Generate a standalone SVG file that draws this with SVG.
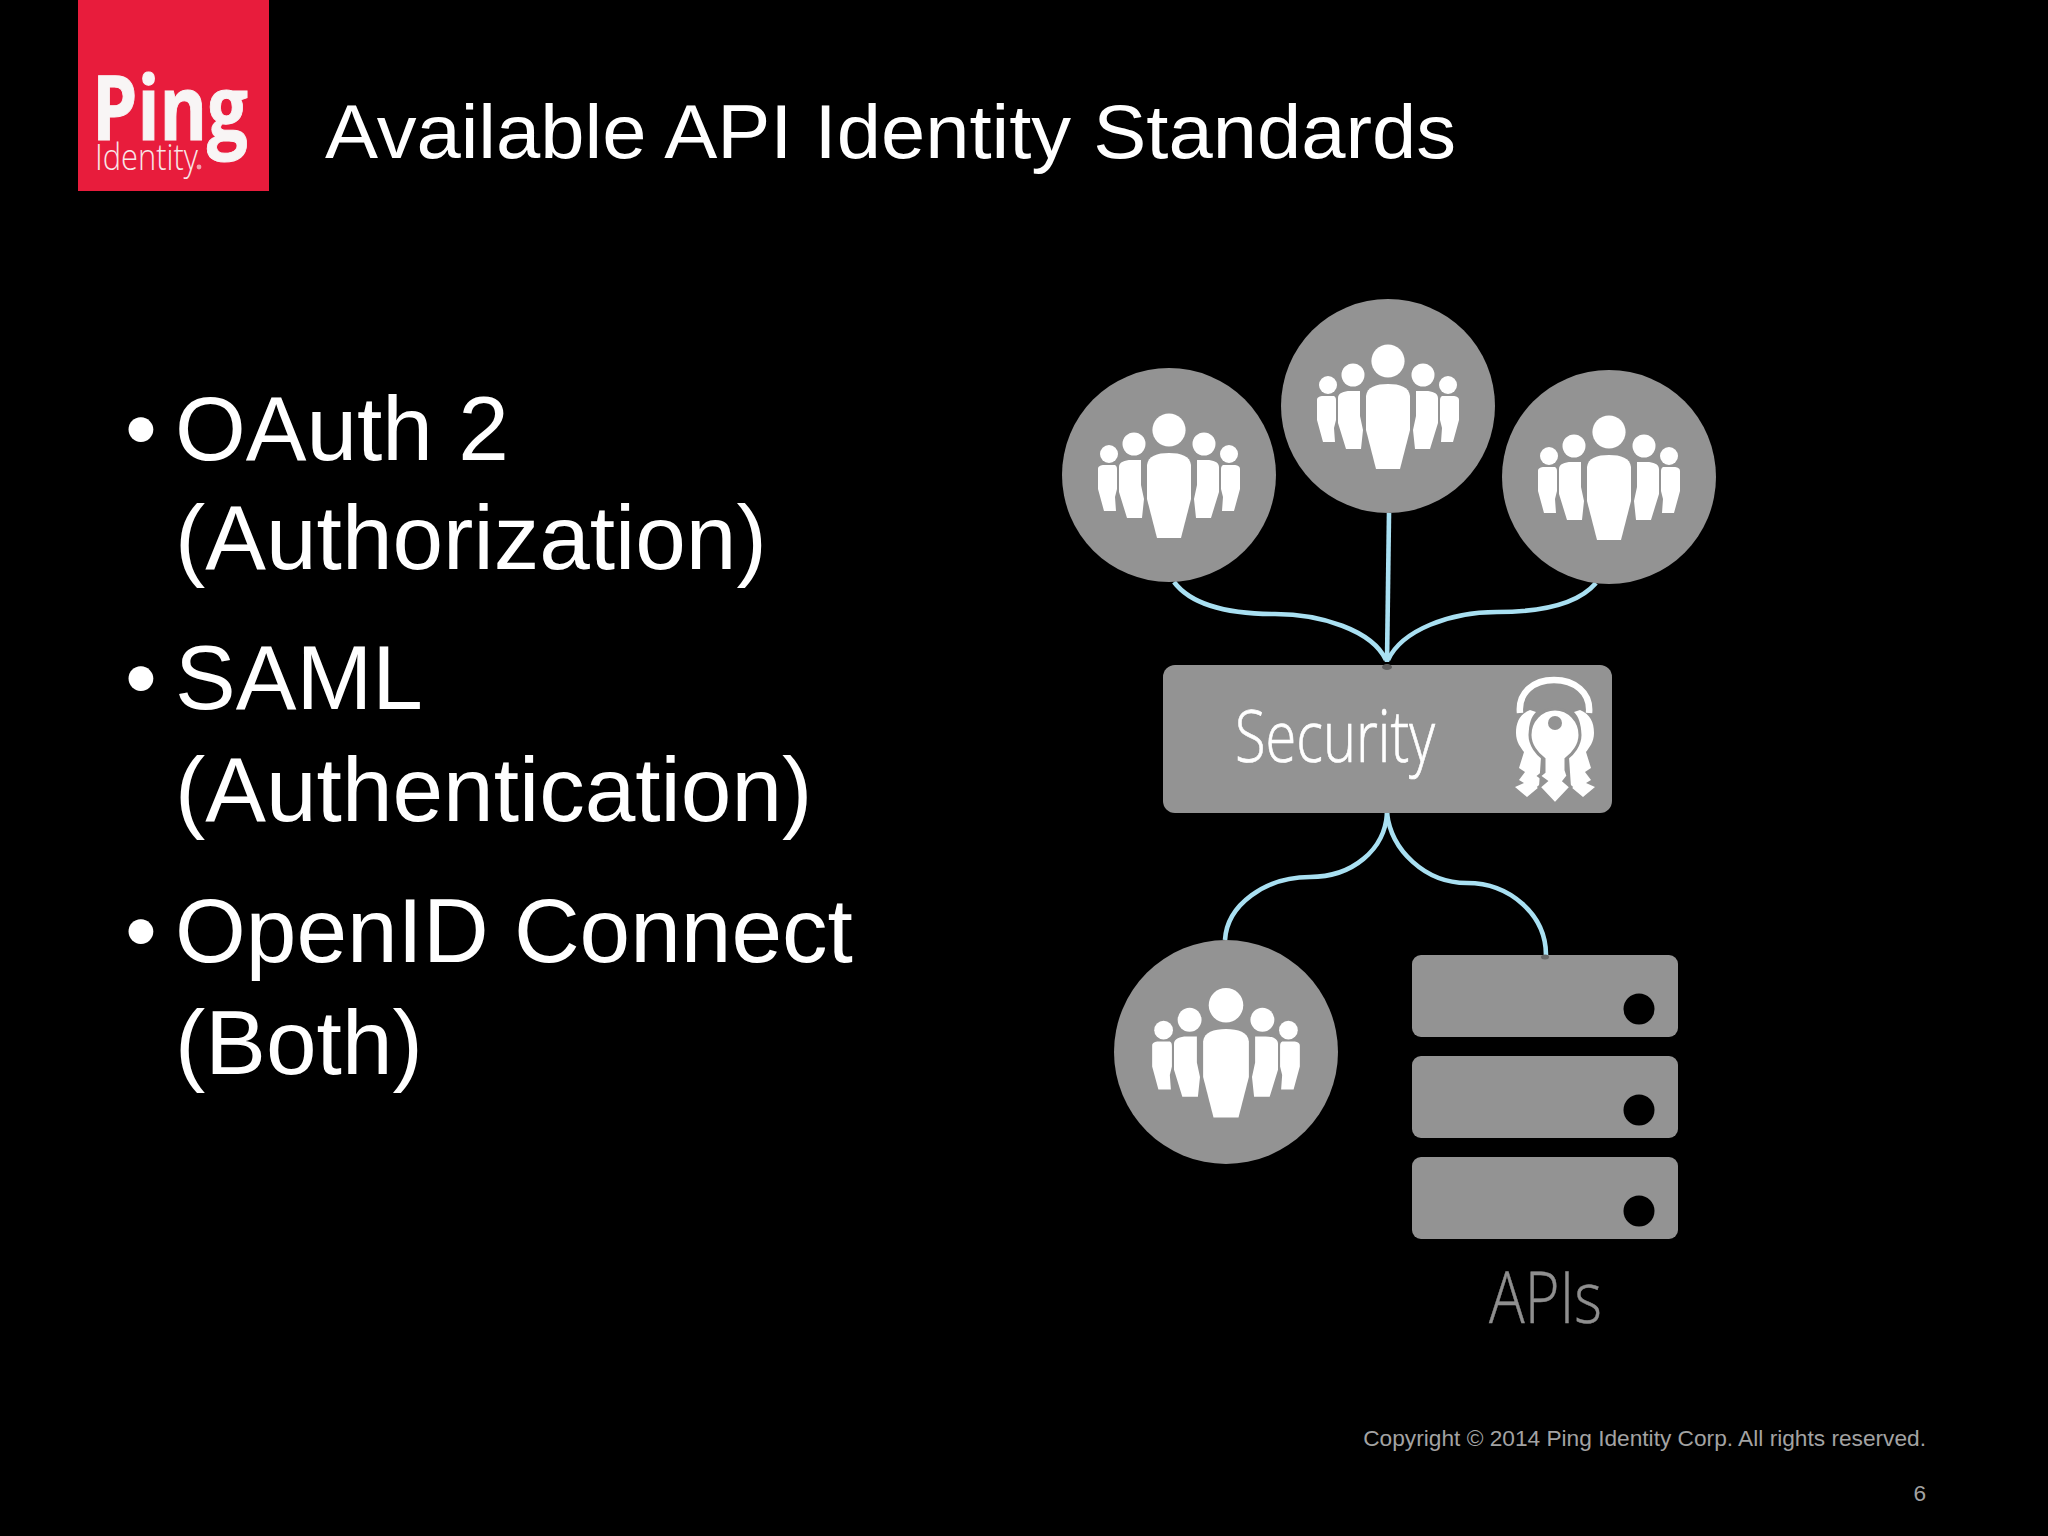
<svg xmlns="http://www.w3.org/2000/svg" xmlns:xlink="http://www.w3.org/1999/xlink" width="2048" height="1536" viewBox="0 0 2048 1536">
<style>
.s{font-family:"Liberation Sans",Arial,sans-serif;fill:#fff}
.b{font-size:91px}
.g{fill:#939393}
.h{font-family:"Open Sans","Liberation Sans",sans-serif;font-weight:300}
.c{fill:none;stroke:#a9e0f2;stroke-width:4.6;stroke-linecap:butt}
.f{font-family:"Liberation Sans",Arial,sans-serif;fill:#a3a3a3;font-size:22.7px}
</style>
<defs>
<g id="people" fill="#fff">
<circle cx="0" cy="-45" r="16.6"/>
<circle cx="-35" cy="-31" r="11.5"/><circle cx="35" cy="-31" r="11.5"/>
<circle cx="-60" cy="-21" r="9"/><circle cx="60" cy="-21" r="9"/>
<path d="M-22 -10C-21 -19 -12 -22 0 -22C12 -22 21 -19 22 -10L22 24L12 63H-12L-22 24Z"/>
<path d="M-50 -8C-50 -13 -44 -15 -38 -15H-28L-28 10L-25 24L-27 43H-42L-50 17Z"/>
<path d="M50 -8C50 -13 44 -15 38 -15H28L28 10L25 24L27 43H42L50 17Z"/>
<path d="M-71 -6C-71 -9 -68 -10 -65 -10H-54C-52 -9 -52 -7 -52 -5L-52 14L-54 22L-53 36H-65L-71 14Z"/>
<path d="M71 -6C71 -9 68 -10 65 -10H54C52 -9 52 -7 52 -5L52 14L54 22L53 36H65L71 14Z"/>
</g>
<path id="skey" d="M1530 710C1520 714 1516 722 1516 733C1516 742 1521 748 1524 752L1519 768L1525 772L1519 780L1524 783L1515 787L1527 797L1539 787L1541 757L1535 750C1528 742 1526 722 1536 712Z"/>
</defs>
<rect width="2048" height="1536" fill="#000"/>

<g id="logo">
<rect x="78" y="0" width="191" height="191" fill="#e81c3c"/>
<text x="92" y="140" font-family="'Open Sans','Liberation Sans',sans-serif" font-weight="700" font-size="89" fill="#f8f5f5" stroke="#f8f5f5" stroke-width="1" textLength="156" lengthAdjust="spacingAndGlyphs">Ping</text>
<text x="95" y="170" font-family="'Open Sans','Liberation Sans',sans-serif" font-weight="300" font-size="36" fill="#f8e6e8" textLength="103" lengthAdjust="spacingAndGlyphs">Identity</text>
<circle cx="199" cy="167" r="2.4" fill="#f4a0ac"/>
</g>

<text id="title" class="s" x="325" y="158" font-size="76" textLength="1131" lengthAdjust="spacingAndGlyphs">Available API Identity Standards</text>

<g id="bullets" class="s">
<text class="s b" x="125" y="460">•</text><text class="s b" x="175" y="460">OAuth 2</text>
<text class="s b" x="175" y="569">(Authorization)</text>
<text class="s b" x="125" y="709">•</text><text class="s b" x="175" y="709">SAML</text>
<text class="s b" x="175" y="821">(Authentication)</text>
<text class="s b" x="125" y="962">•</text><text class="s b" x="175" y="962">OpenID Connect</text>
<text class="s b" x="175" y="1074">(Both)</text>
</g>

<g id="connectors">
<path class="c" d="M1389 513L1387 662"/>
<path class="c" d="M1174 582C1192 606 1230 614 1275 614C1320 614 1372 630 1386 660"/>
<path class="c" d="M1596 583C1578 604 1540 612 1497 612C1450 612 1402 630 1388 660"/>
<path class="c" d="M1387 813C1385 850 1352 877 1310 877C1265 877 1227 905 1225 940"/>
<path class="c" d="M1387 813C1391 850 1425 883 1467 883C1510 883 1546 915 1546 955"/>
</g>

<g id="user-left"><circle class="g" cx="1169" cy="475" r="107"/><use xlink:href="#people" href="#people" x="1169" y="475"/></g>
<g id="user-middle"><circle class="g" cx="1388" cy="406" r="107"/><use xlink:href="#people" href="#people" x="1388" y="406"/></g>
<g id="user-right"><circle class="g" cx="1609" cy="477" r="107"/><use xlink:href="#people" href="#people" x="1609" y="477"/></g>

<g id="security">
<rect class="g" x="1163" y="665" width="449" height="148" rx="12"/>
<ellipse cx="1387" cy="667" rx="5" ry="3" fill="#5e5e5e"/>
<text x="1235" y="762" class="h" font-size="72" fill="#fff" stroke="#fff" stroke-width="0.7" textLength="200" lengthAdjust="spacingAndGlyphs">Security</text>
<path d="M1520 713C1518 692 1534 680 1554 680C1574 680 1591 692 1589 713" fill="none" stroke="#fff" stroke-width="6.5"/>
<g fill="#fff">
<use xlink:href="#skey" href="#skey"/>
<use xlink:href="#skey" href="#skey" transform="matrix(-1 0 0 1 3110 0)"/>
<path stroke="#939393" stroke-width="3" d="M1555 709C1541 709 1530 721 1530 735C1530 745 1537 754 1544 759L1544 772L1539 776L1546 781L1539 787L1555 804L1571 787L1564 781L1568 776L1566 770L1566 759C1573 754 1580 745 1580 735C1580 721 1569 709 1555 709Z"/>
<circle cx="1555" cy="723" r="7" fill="#939393"/>
</g>
</g>

<g id="user-bottom"><circle class="g" cx="1226" cy="1052" r="112"/><use xlink:href="#people" href="#people" transform="translate(1226 1052) scale(1.04)"/></g>

<g id="apis">
<rect class="g" x="1412" y="955" width="266" height="82" rx="9"/><circle cx="1639" cy="1009" r="15.5" fill="#000"/>
<rect class="g" x="1412" y="1056" width="266" height="82" rx="9"/><circle cx="1639" cy="1110" r="15.5" fill="#000"/>
<rect class="g" x="1412" y="1157" width="266" height="82" rx="9"/><circle cx="1639" cy="1211" r="15.5" fill="#000"/>
<ellipse cx="1545" cy="957" rx="4" ry="2.5" fill="#666"/>
<text x="1489" y="1323" class="h" font-size="72" fill="#8f8f8f" stroke="#8f8f8f" stroke-width="0.5" textLength="113" lengthAdjust="spacingAndGlyphs">APIs</text>
</g>

<g id="footer">
<text class="f" x="1926" y="1446" text-anchor="end">Copyright © 2014 Ping Identity Corp. All rights reserved.</text>
<text class="f" x="1926" y="1501" text-anchor="end">6</text>
</g>
</svg>
